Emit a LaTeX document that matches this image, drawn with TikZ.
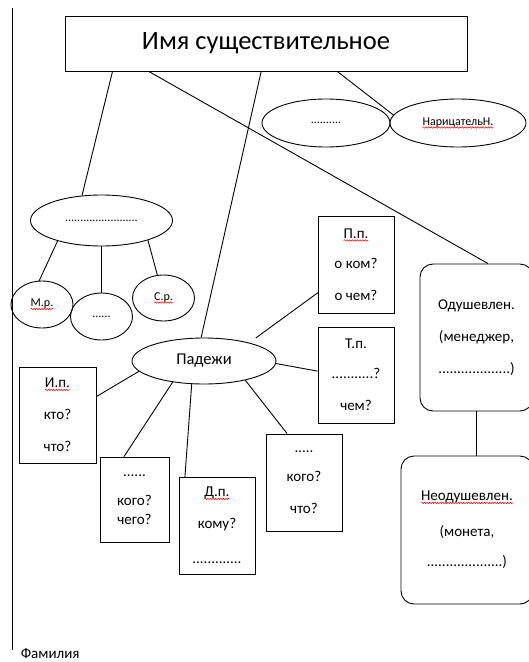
\documentclass[tikz,border=0pt]{standalone}
\usepackage{fontspec}
\setmainfont{Carlito}
\usepackage{tikz}
\usetikzlibrary{calc,shapes.geometric,decorations.pathmorphing}
\newcommand{\spellmark}[1]{\tikz[baseline=(w.base), sharp corners]{\node[draw=none, rectangle, inner sep=0pt, outer sep=0pt, minimum width=0pt, minimum height=0pt, anchor=base] (w) {#1};
	\draw[red, line width=0.5pt, sharp corners, decorate, decoration={snake, amplitude=0.7pt, segment length=2.6pt}] ([yshift=-2.2pt]w.base west) -- ([yshift=-2.2pt]w.base east);}}

\begin{document}
\begin{tikzpicture}[x=1pt,y=-1pt,line width=0.9pt,
	box/.style={draw, rectangle, inner sep=0pt, align=center, font=\fontsize{15}{32}\selectfont},
	roundbox/.style={box, rounded corners=13pt},
	oval/.style={draw, ellipse, inner sep=0pt, align=center, font=\fontsize{12}{14}\selectfont}]
	\useasboundingbox (0,0) rectangle (529,662);
	\coordinate (top) at (12,8);
	\coordinate (bottom) at (12,650);
	\draw (top) -- (bottom);

	\node[box, minimum width=402pt, minimum height=55pt, font=\fontsize{26.5}{30}\selectfont] (N) at (266,43.5) {Имя существительное};
	\node[oval, minimum width=128pt, minimum height=48pt] (P) at (326,123) {..........};
	\node[oval, minimum width=136pt, minimum height=48pt] (C) at (458,123) {\spellmark{НарицательН.}};
	\node[oval, minimum width=142pt, minimum height=51pt] (G) at (101.5,220.5) {........................};
	\node[oval, minimum width=62pt, minimum height=47pt] (M) at (42,304.5) {\spellmark{М.р.}};
	\node[oval, minimum width=62pt, minimum height=47pt] (F) at (101.5,316.5) {......};
	\node[oval, minimum width=62pt, minimum height=46pt] (S) at (163.5,298) {\spellmark{С.р.}};
	\node[oval, minimum width=144pt, minimum height=46pt, font=\fontsize{16.5}{20}\selectfont] (K) at (204,361) {Падежи};

	\node[box, minimum width=77pt, minimum height=96pt] (Ip) at (57.5,415) {\spellmark{И.п.}\\кто?\\что?};
	\node[box, minimum width=69pt, minimum height=85pt] (Rp) at (134.5,499.5) {......\\[-3pt]кого?\\[-13pt]чего?};
	\node[box, minimum width=76pt, minimum height=97pt] (Dp) at (217,525.5) {\spellmark{Д.п.}\\кому?\\[3pt].............};
	\node[box, minimum width=76pt, minimum height=97pt] (Vp) at (304,482.5) {.....\\[-3pt]кого?\\что?};
	\node[box, minimum width=76pt, minimum height=97pt] (Pp) at (356,264.5) {\spellmark{П.п.}\\[-2pt]о ком?\\о чем?};
	\node[box, minimum width=76pt, minimum height=96pt] (Tp) at (356,375) {Т.п.\\[-2pt]...........?\\чем?};
	\node[roundbox, minimum width=113pt, minimum height=147pt] (A) at (476.5,337.5) {Одушевлен.\\(менеджер,\\...................)};
	\node[roundbox, minimum width=132pt, minimum height=148pt] (U) at (467,530) {\spellmark{Неодушевлен.}\\[4pt](монета,\\[-2pt]....................)};
	\node[anchor=base west, font=\fontsize{15}{18}\selectfont] (fam) at (17,658) {Фамилия};

	\draw ($(N.south west)!0.119!(N.south east)$) -- (G.128);
	\draw ($(N.south west)!0.209!(N.south east)$) -- ([xshift=11.5pt]A.north);
	\draw ($(N.south west)!0.488!(N.south east)$) -- (K.97);
	\draw ($(N.south west)!0.677!(N.south east)$) -- (C.173);
	\draw (G.205) -- (M.97);
	\draw (G.south) -- (F.north);
	\draw (G.337) -- (S.105);
	\draw[shorten <=8pt] (K.22) -- ($(Pp.north west)!0.79!(Pp.south west)$);
	\draw (K.358) -- ($(Tp.north west)!0.46!(Tp.south west)$);
	\draw (K.189) -- ($(Ip.north east)!0.31!(Ip.south east)$);
	\draw (K.214) -- ($(Rp.north west)!0.35!(Rp.north east)$);
	\draw (K.242) -- ($(Dp.north west)!0.08!(Dp.north east)$);
	\draw (K.335) -- ($(Vp.north west)!0.28!(Vp.north east)$);
	\draw (A.south) -- (A.south |- U.north);
\end{tikzpicture}
\end{document}
